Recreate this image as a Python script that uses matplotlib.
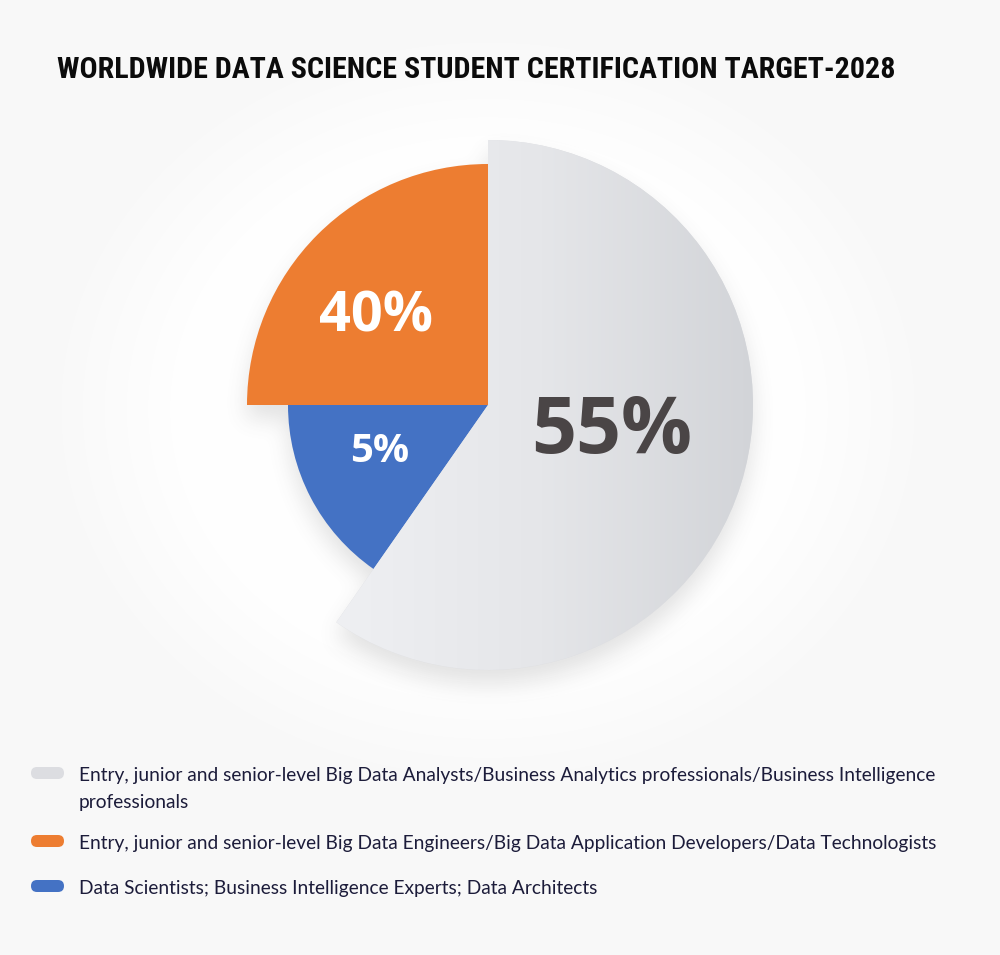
import numpy as np
import matplotlib
matplotlib.use("Agg")
import matplotlib.pyplot as plt
from matplotlib import font_manager
from matplotlib.patches import FancyBboxPatch
from matplotlib.colors import LinearSegmentedColormap

# ---------------- data ----------------
title = "WORLDWIDE DATA SCIENCE STUDENT CERTIFICATION TARGET-2028"
categories = [
    "Entry, junior and senior-level Big Data Analysts/Business Analytics professionals/Business Intelligence professionals",
    "Entry, junior and senior-level Big Data Engineers/Big Data Application Developers/Data Technologists",
    "Data Scientists; Business Intelligence Experts; Data Architects",
]
shares = [55, 40, 5]                      # printed shares (%)
drawn_extent = [59.7, 25.0, 15.3]         # angular size of each slice as drawn (% of circle)
slice_radius = [265, 241, 200]            # radius of each slice (px)
colors = ["#dcdde1", "#ED7D31", "#4472C4"]
label_colors = ["#4a4546", "#ffffff", "#ffffff"]
pie_order = [0, 2, 1]                     # clockwise from 12 o'clock

# ---------------- figure ----------------
W, H = 1000, 955
BG = "#f8f8f8"
fig = plt.figure(figsize=(W / 100, H / 100), dpi=100, facecolor=BG)
ax = fig.add_axes([0, 0, 1, 1])
ax.set_facecolor(BG)

flist = font_manager.fontManager.ttflist
names = {f.name for f in flist}

title_font = dict(family="Roboto" if "Roboto" in names else "DejaVu Sans", fontweight="bold")
for cand in ["Roboto Condensed", "Liberation Sans Narrow", "Open Sans Condensed", "Noto Sans Condensed"]:
    if cand in names:
        title_font = dict(family=cand, fontweight="bold")
        break
else:
    cond = [f for f in flist if f.name in ("DejaVu Sans", "Noto Sans", "Open Sans", "Roboto")
            and str(f.stretch) in ("condensed", "semi-condensed", "extra-condensed", "75", "87", "62")]
    if cond:
        title_font = dict(family=cond[0].name, fontweight="bold", fontstretch=cond[0].stretch)

body_family = "Lato" if "Lato" in names else ("Open Sans" if "Open Sans" in names else "DejaVu Sans")
num_family = "Open Sans" if "Open Sans" in names else "DejaVu Sans"

cx, cy = 488, 405  # pie centre in pixels (from top)
def Y(y):
    return H - y

# background glow
yy, xx = np.mgrid[0:H, 0:W] + 0.5
er = np.hypot((xx - cx) / 390.0, (yy - 410) / 335.0)
glow_a = np.clip((1.15 - er) / 0.35, 0, 1)
glow = np.ones((H, W, 4))
glow[..., 3] = glow_a * 0.9
ax.imshow(glow, extent=(0, W, 0, H), origin="upper", zorder=0, interpolation="bilinear")

# soft shadow of the pie
def slice_mask(offx, offy):
    dx = xx - cx - offx
    dy = -(yy - cy - offy)
    ang = np.degrees(np.arctan2(dy, dx)) % 360
    r = np.hypot(dx, dy)
    m = np.zeros((H, W))
    start = 90.0
    for i in pie_order:
        ext = drawn_extent[i] * 3.6
        inside = ((start - ang) % 360) < ext
        m[inside & (r <= slice_radius[i])] = 1.0
        start -= ext
    return m

def box_blur(a, k):
    for axis in (0, 1):
        pad = [(k + 1, k) if a_ == axis else (0, 0) for a_ in (0, 1)]
        c = np.cumsum(np.pad(a, pad, mode="edge"), axis=axis)
        if axis == 0:
            a = (c[2 * k + 1:, :] - c[:-2 * k - 1, :]) / (2 * k + 1)
        else:
            a = (c[:, 2 * k + 1:] - c[:, :-2 * k - 1]) / (2 * k + 1)
    return a

sh = slice_mask(0, 14)
for _ in range(3):
    sh = box_blur(sh, 10)
shadow = np.zeros((H, W, 4))
shadow[..., :3] = 0.35
shadow[..., 3] = sh * 0.17
ax.imshow(shadow, extent=(0, W, 0, H), origin="upper", zorder=1, interpolation="bilinear")

# pie
sizes = [drawn_extent[i] for i in pie_order]
wedges, _ = ax.pie(sizes, colors=[colors[i] for i in pie_order], startangle=90,
                   counterclock=False, radius=slice_radius[0], center=(cx, Y(cy)),
                   frame=True, wedgeprops=dict(linewidth=0))
for w, i in zip(wedges, pie_order):
    w.set_radius(slice_radius[i])
    w.set_zorder(2)

# gradient on the large grey slice
grey_wedge = wedges[pie_order.index(0)]
cmap = LinearSegmentedColormap.from_list("g", ["#eff0f3", "#e5e6e9", "#d2d4d8"])
grad = np.linspace(0, 1, 256).reshape(1, -1)
im = ax.imshow(grad, cmap=cmap, extent=(cx - 160, cx + 268, Y(cy + 270), Y(cy - 270)),
               origin="upper", zorder=2.5, aspect="auto", interpolation="bilinear")
im.set_clip_path(grey_wedge)

ax.set_xlim(0, W)
ax.set_ylim(0, H)
ax.axis("off")

fig.canvas.draw()
renderer = fig.canvas.get_renderer()

def fit(t, target_w):
    for _ in range(3):
        bb = t.get_window_extent(renderer)
        t.set_fontsize(t.get_fontsize() * target_w / bb.width)
    return t

# title
t = ax.text(57, Y(78), title, ha="left", va="baseline", fontsize=26,
            color="#0b0b0b", zorder=5, **title_font)
fit(t, 843)

# slice labels
label_pos = [(612, 433), (376, 317), (380, 451)]
label_w = [161, 114, 59]
for i, (px, py) in enumerate(label_pos):
    tt = ax.text(px, Y(py), f"{shares[i]}%", ha="center", va="center", fontsize=40,
                 fontweight="bold", family=num_family, color=label_colors[i], zorder=6)
    fit(tt, label_w[i])

# legend
probe = ax.text(79, 0, categories[1], fontsize=13, family=body_family)
fit(probe, 863)
leg_fs = probe.get_fontsize()
probe.remove()

def wrap(text, maxw):
    words = text.split(" ")
    lines, cur = [], ""
    for wd in words:
        trial = (cur + " " + wd).strip()
        tp = ax.text(0, 0, trial, fontsize=leg_fs, family=body_family)
        wdt = tp.get_window_extent(renderer).width
        tp.remove()
        if wdt > maxw and cur:
            lines.append(cur)
            cur = wd
        else:
            cur = trial
    lines.append(cur)
    return lines

pill_y = [773, 841, 886]
for i, cat in enumerate(categories):
    py = pill_y[i]
    ax.add_patch(FancyBboxPatch((31, Y(py) - 6), 33, 12,
                                boxstyle="round,pad=0,rounding_size=6",
                                facecolor=colors[i], edgecolor="none", zorder=5))
    for j, line in enumerate(wrap(cat, 875)):
        ax.text(79, Y(py + 8 + 27 * j), line, ha="left", va="baseline", fontsize=leg_fs,
                family=body_family, color="#1c1c3a", zorder=5)

fig.savefig("out.png", dpi=100, facecolor=fig.get_facecolor())
